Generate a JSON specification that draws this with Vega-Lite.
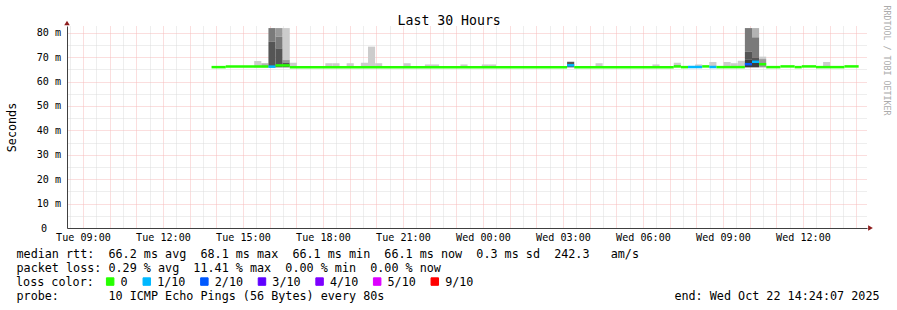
{
  "$schema": "https://vega.github.io/schema/vega-lite/v6.json",
  "width": 800,
  "height": 202,
  "autosize": {"type": "none"},
  "padding": {"left": 67, "top": 26, "right": 30, "bottom": 82},
  "background": "#ffffff",
  "config": {"font": "DejaVu Sans Mono", "view": {"stroke": null}},
  "datasets": {
    "smoke": [
      {"t": 15.4222, "t2": 15.6889, "lo": 65.8, "hi": 68.4, "level": 1},
      {"t": 15.6889, "t2": 15.9556, "lo": 65.8, "hi": 67.5, "level": 2},
      {"t": 15.9556, "t2": 16.2222, "lo": 76.3, "hi": 81.9, "level": 4},
      {"t": 15.9556, "t2": 16.2222, "lo": 65.8, "hi": 76.3, "level": 5},
      {"t": 16.2222, "t2": 16.4889, "lo": 78.4, "hi": 81.9, "level": 3},
      {"t": 16.2222, "t2": 16.4889, "lo": 73.6, "hi": 78.4, "level": 4},
      {"t": 16.2222, "t2": 16.4889, "lo": 65.8, "hi": 73.6, "level": 5},
      {"t": 16.4889, "t2": 16.7556, "lo": 68.8, "hi": 81.9, "level": 1},
      {"t": 16.4889, "t2": 16.7556, "lo": 67.7, "hi": 68.8, "level": 3},
      {"t": 16.4889, "t2": 16.7556, "lo": 65.8, "hi": 67.7, "level": 5},
      {"t": 16.7556, "t2": 17.0222, "lo": 65.8, "hi": 67.7, "level": 1},
      {"t": 18.0889, "t2": 18.3556, "lo": 65.8, "hi": 67.5, "level": 1},
      {"t": 18.3556, "t2": 18.6222, "lo": 65.8, "hi": 67.5, "level": 1},
      {"t": 18.8889, "t2": 19.1556, "lo": 65.8, "hi": 67.5, "level": 1},
      {"t": 19.4222, "t2": 19.6889, "lo": 65.8, "hi": 67.7, "level": 1},
      {"t": 19.6889, "t2": 19.9556, "lo": 65.8, "hi": 74.3, "level": 1},
      {"t": 19.9556, "t2": 20.2222, "lo": 65.8, "hi": 67.5, "level": 1},
      {"t": 21.0222, "t2": 21.2889, "lo": 65.8, "hi": 67.5, "level": 1},
      {"t": 21.8222, "t2": 22.0889, "lo": 65.8, "hi": 67.0, "level": 1},
      {"t": 22.0889, "t2": 22.3556, "lo": 65.8, "hi": 67.0, "level": 1},
      {"t": 23.1556, "t2": 23.4222, "lo": 65.8, "hi": 67.0, "level": 1},
      {"t": 23.9556, "t2": 24.2222, "lo": 65.8, "hi": 67.0, "level": 1},
      {"t": 24.2222, "t2": 24.4889, "lo": 65.8, "hi": 67.0, "level": 1},
      {"t": 27.1556, "t2": 27.4222, "lo": 65.8, "hi": 68.1, "level": 5},
      {"t": 28.2222, "t2": 28.4889, "lo": 65.8, "hi": 67.5, "level": 1},
      {"t": 30.3556, "t2": 30.6222, "lo": 65.8, "hi": 67.0, "level": 1},
      {"t": 31.1556, "t2": 31.4222, "lo": 65.8, "hi": 67.7, "level": 1},
      {"t": 31.9556, "t2": 32.2222, "lo": 65.8, "hi": 67.0, "level": 1},
      {"t": 32.4889, "t2": 32.7556, "lo": 65.8, "hi": 68.0, "level": 1},
      {"t": 33.0222, "t2": 33.2889, "lo": 65.8, "hi": 68.0, "level": 1},
      {"t": 33.2889, "t2": 33.5556, "lo": 65.8, "hi": 67.5, "level": 1},
      {"t": 33.5556, "t2": 33.8222, "lo": 65.8, "hi": 68.5, "level": 1},
      {"t": 33.8222, "t2": 34.0889, "lo": 72.2, "hi": 81.9, "level": 4},
      {"t": 33.8222, "t2": 34.0889, "lo": 68.9, "hi": 72.2, "level": 5},
      {"t": 33.8222, "t2": 34.0889, "lo": 65.8, "hi": 68.9, "level": 6},
      {"t": 34.0889, "t2": 34.3556, "lo": 78.1, "hi": 81.9, "level": 2},
      {"t": 34.0889, "t2": 34.3556, "lo": 69.9, "hi": 78.1, "level": 4},
      {"t": 34.0889, "t2": 34.3556, "lo": 68.8, "hi": 69.9, "level": 5},
      {"t": 34.0889, "t2": 34.3556, "lo": 65.8, "hi": 68.8, "level": 6},
      {"t": 34.3556, "t2": 34.6222, "lo": 69.2, "hi": 70.2, "level": 1},
      {"t": 34.3556, "t2": 34.6222, "lo": 65.8, "hi": 69.2, "level": 3},
      {"t": 36.7556, "t2": 37.0222, "lo": 65.8, "hi": 68.0, "level": 1}
    ],
    "median": [
      {"t": 13.8222, "t2": 14.3556, "med": 65.9, "loss": "0"},
      {"t": 14.3556, "t2": 15.9556, "med": 66.2, "loss": "0"},
      {"t": 15.9556, "t2": 16.2222, "med": 66.1, "loss": "1/10"},
      {"t": 16.2222, "t2": 16.7556, "med": 66.6, "loss": "0"},
      {"t": 16.7556, "t2": 27.1556, "med": 65.9, "loss": "0"},
      {"t": 27.1556, "t2": 27.4222, "med": 66.65, "loss": "1/10"},
      {"t": 27.4222, "t2": 31.1556, "med": 65.9, "loss": "0"},
      {"t": 31.1556, "t2": 31.4222, "med": 66.2, "loss": "0"},
      {"t": 31.4222, "t2": 31.6889, "med": 65.9, "loss": "0"},
      {"t": 31.6889, "t2": 32.2222, "med": 65.95, "loss": "1/10"},
      {"t": 32.2222, "t2": 32.4889, "med": 66.2, "loss": "0"},
      {"t": 32.4889, "t2": 32.7556, "med": 65.95, "loss": "1/10"},
      {"t": 32.7556, "t2": 33.8222, "med": 65.9, "loss": "0"},
      {"t": 33.8222, "t2": 34.0889, "med": 67.1, "loss": "2/10"},
      {"t": 34.0889, "t2": 34.3556, "med": 68.1, "loss": "1/10"},
      {"t": 34.3556, "t2": 34.6222, "med": 67.1, "loss": "0"},
      {"t": 34.6222, "t2": 35.1556, "med": 65.9, "loss": "0"},
      {"t": 35.1556, "t2": 35.6889, "med": 66.2, "loss": "0"},
      {"t": 35.6889, "t2": 35.9556, "med": 65.9, "loss": "0"},
      {"t": 35.9556, "t2": 36.4889, "med": 66.2, "loss": "0"},
      {"t": 36.4889, "t2": 37.5556, "med": 65.9, "loss": "0"},
      {"t": 37.5556, "t2": 38.0889, "med": 66.2, "loss": "0"}
    ]
  },
  "resolve": {"axis": {"x": "independent", "y": "independent"}},
  "layer": [
    {
      "data": {"name": "smoke"},
      "mark": {"type": "rect"},
      "encoding": {
        "x": {
          "field": "t", "type": "quantitative",
          "scale": {"domain": [8.4019, 38.4019], "nice": false, "zero": false},
          "axis": {
            "values": [8.5,9,9.5,10,10.5,11,11.5,12,12.5,13,13.5,14,14.5,15,15.5,16,16.5,17,17.5,18,18.5,19,19.5,20,20.5,21,21.5,22,22.5,23,23.5,24,24.5,25,25.5,26,26.5,27,27.5,28,28.5,29,29.5,30,30.5,31,31.5,32,32.5,33,33.5,34,34.5,35,35.5,36,36.5,37,37.5,38],
            "grid": true,
            "gridColor": {"condition": {"test": "datum.value % 1 === 0", "value": "#f6bcbc"}, "value": "#dcdcdc"},
            "gridDash": [1, 1],
            "gridWidth": 1,
            "ticks": false,
            "domainColor": "#404040",
            "labelExpr": "datum.value % 3 === 0 ? (datum.value < 24 ? 'Tue ' : 'Wed ') + (datum.value % 24 < 10 ? '0' : '') + (datum.value % 24) + ':00' : ''",
            "labelFontSize": 10.1,
            "labelColor": "#000000",
            "labelPadding": 12,
            "labelBaseline": "alphabetic",
            "labelOverlap": false,
            "labelBound": false,
            "labelFlush": false,
            "labelAngle": 0,
            "title": [
              "median rtt:\u00a0\u00a066.2 ms avg\u00a0\u00a068.1 ms max\u00a0\u00a066.1 ms min\u00a0\u00a066.1 ms now\u00a0\u00a00.3 ms sd\u00a0\u00a0242.3\u00a0\u00a0\u00a0am/s",
              "packet loss: 0.29 % avg\u00a0\u00a011.41 % max\u00a0\u00a00.00 % min\u00a0\u00a00.00 % now"
            ],
            "titleX": -51,
            "titleY": 29.5,
            "titleAlign": "left",
            "titleAnchor": "start",
            "titleBaseline": "alphabetic",
            "titleFontSize": 11.75,
            "titleFontWeight": "normal",
            "titleColor": "#000000",
            "titleLineHeight": 14.07
          }
        },
        "x2": {"field": "t2"},
        "y": {
          "field": "lo", "type": "quantitative",
          "scale": {"domain": [0, 82.75], "nice": false, "zero": true},
          "axis": {
            "values": [0,5,10,15,20,25,30,35,40,45,50,55,60,65,70,75,80],
            "grid": true,
            "gridColor": {"condition": {"test": "datum.value % 10 === 0", "value": "#f6bcbc"}, "value": "#dcdcdc"},
            "gridDash": [1, 1],
            "gridWidth": 1,
            "ticks": false,
            "domainColor": "#404040",
            "labelExpr": "datum.value % 10 === 0 ? (datum.value === 0 ? '0\u2800\u2800' : datum.value + ' m') : ''",
            "labelFontSize": 10.1,
            "labelColor": "#000000",
            "labelPadding": 6.5,
            "labelOverlap": false,
            "labelBound": false,
            "labelFlush": false,
            "title": "Seconds",
            "titleFontSize": 11.75,
            "titleFontWeight": "normal",
            "titleColor": "#000000",
            "titleAngle": 270,
            "titleX": -51.7,
            "titleY": 101,
            "titleAlign": "center",
            "titleBaseline": "alphabetic"
          }
        },
        "y2": {"field": "hi"},
        "fill": {
          "field": "level", "type": "ordinal",
          "scale": {"domain": [1, 2, 3, 4, 5, 6], "range": ["#cccccc", "#b3b3b3", "#999999", "#7a7a7a", "#555555", "#3d3d3d"]},
          "legend": null
        }
      }
    },
    {
      "data": {"name": "median"},
      "mark": {"type": "rule", "strokeWidth": 2.5},
      "encoding": {
        "x": {"field": "t", "type": "quantitative", "scale": {"domain": [8.4019, 38.4019], "nice": false, "zero": false}, "axis": null},
        "x2": {"field": "t2"},
        "y": {"field": "med", "type": "quantitative", "scale": {"domain": [0, 82.75], "nice": false, "zero": true}, "axis": null},
        "color": {
          "field": "loss", "type": "nominal",
          "scale": {"domain": ["0", "1/10", "2/10", "3/10", "4/10", "5/10", "9/10"], "range": ["#26ff00", "#00b8ff", "#0059ff", "#5e00ff", "#7e00ff", "#dd00ff", "#ff0000"]},
          "legend": {
            "orient": "none",
            "legendX": -51,
            "legendY": 249.5,
            "direction": "horizontal",
            "padding": 0,
            "title": "loss color:",
            "titleOrient": "left",
            "titleFontSize": 11.75,
            "titleFontWeight": "normal",
            "titleColor": "#000000",
            "titlePadding": 10.3,
            "symbolType": "square",
            "symbolSize": 56,
            "symbolStrokeWidth": 1,
            "symbolStrokeColor": "#000000",
            "symbolOpacity": 1,
            "labelFontSize": 11.75,
            "labelColor": "#000000",
            "labelOffset": 4.5,
            "columnPadding": 12.6,
            "encode": {
              "symbols": {
                "update": {
                  "fill": {"scale": "color", "field": "value"},
                  "stroke": {"value": "#000000"},
                  "strokeWidth": {"value": 1},
                  "opacity": {"value": 1}
                }
              }
            }
          }
        }
      }
    },
    {
      "data": {"values": [{"t": 8.4019, "v": 82.75}]},
      "mark": {"type": "point", "shape": "triangle-up", "filled": true, "size": 30, "color": "#8e1c1c", "opacity": 1, "yOffset": -3, "clip": false},
      "encoding": {
        "x": {
          "field": "t", "type": "quantitative",
          "scale": {"domain": [8.4019, 38.4019], "nice": false, "zero": false},
          "axis": {
            "orient": "top", "labels": false, "ticks": false, "domain": false, "grid": false,
            "title": "Last 30 Hours",
            "titleX": 381.7, "titleY": -2, "titleAlign": "center", "titleBaseline": "alphabetic",
            "titleFontSize": 13.2, "titleFontWeight": "normal", "titleColor": "#000000"
          }
        },
        "y": {
          "field": "v", "type": "quantitative",
          "scale": {"domain": [0, 82.75], "nice": false, "zero": true},
          "axis": {
            "orient": "right", "labels": false, "ticks": false, "domain": false, "grid": false,
            "title": "RRDTOOL / TOBI OETIKER",
            "titleAngle": 90, "titleX": 16.5, "titleY": 34, "titleAlign": "center", "titleBaseline": "alphabetic",
            "titleFontSize": 8.3, "titleFontWeight": "normal", "titleColor": "#ababab"
          }
        }
      }
    },
    {
      "data": {"values": [{"t": 38.4019, "v": 0}]},
      "mark": {"type": "point", "shape": "triangle-right", "filled": true, "size": 30, "color": "#8e1c1c", "opacity": 1, "xOffset": 3.5, "clip": false},
      "encoding": {
        "x": {
          "field": "t", "type": "quantitative",
          "scale": {"domain": [8.4019, 38.4019], "nice": false, "zero": false},
          "axis": {
            "orient": "bottom", "labels": false, "ticks": false, "domain": false, "grid": false,
            "title": "probe:\u00a0\u00a0\u00a0\u00a0\u00a0\u00a0\u00a010 ICMP Echo Pings (56 Bytes) every 80s\u00a0\u00a0\u00a0\u00a0\u00a0\u00a0\u00a0\u00a0\u00a0\u00a0\u00a0\u00a0\u00a0\u00a0\u00a0\u00a0\u00a0\u00a0\u00a0\u00a0\u00a0\u00a0\u00a0\u00a0\u00a0\u00a0\u00a0\u00a0\u00a0\u00a0\u00a0\u00a0\u00a0\u00a0\u00a0\u00a0\u00a0\u00a0\u00a0\u00a0\u00a0end: Wed Oct 22 14:24:07 2025",
            "titleX": -51, "titleY": 71.7, "titleAlign": "left", "titleAnchor": "start", "titleBaseline": "alphabetic",
            "titleFontSize": 11.75, "titleFontWeight": "normal", "titleColor": "#000000"
          }
        },
        "y": {"field": "v", "type": "quantitative", "scale": {"domain": [0, 82.75], "nice": false, "zero": true}, "axis": null}
      }
    }
  ]
}
